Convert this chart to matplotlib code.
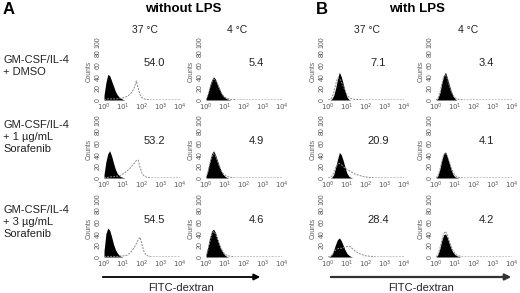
import numpy as np
import matplotlib
matplotlib.use("Agg")
import matplotlib.pyplot as plt

plt.rcParams['font.family'] = ['Liberation Sans', 'DejaVu Sans']

W, H = 520, 293

# log10 positions of the points
black_x = [0.0, 0.1, 0.2, 0.3, 0.4, 0.5, 0.6, 0.7, 0.8, 0.9, 1.0, 1.1, 1.2, 1.3, 1.4]
dash_x = [0.0, 0.1, 0.2, 0.3, 0.4, 0.5, 0.6, 0.7, 0.8, 0.9, 1.0, 1.1, 1.2,
          1.3, 1.4, 1.5, 1.6, 1.7, 1.8, 1.9, 2.0, 2.1, 2.2, 2.3, 2.4, 2.5,
          3.0, 3.5, 4.0]

row_labels = ["GM-CSF/IL-4\n+ DMSO",
              "GM-CSF/IL-4\n+ 1 \u00b5g/mL\nSorafenib",
              "GM-CSF/IL-4\n+ 3 \u00b5g/mL\nSorafenib"]
col_titles = ["37 \u00b0C", "4 \u00b0C", "37 \u00b0C", "4 \u00b0C"]

pct_a37 = ["54.0", "53.2", "54.5"]
pct_a4 = ["5.4", "4.9", "4.6"]
pct_b37 = ["7.1", "20.9", "28.4"]
pct_b4 = ["3.4", "4.1", "4.2"]

# black filled histograms (control), one list per row
black_a37 = [[8, 30, 44, 42, 33, 24, 15, 9, 5, 3, 1, 0, 0, 0, 0],
             [6, 28, 42, 47, 38, 26, 15, 8, 4, 2, 1, 0, 0, 0, 0],
             [10, 40, 50, 46, 35, 22, 13, 7, 3, 1, 0, 0, 0, 0, 0]]
black_a4 = [[2, 12, 25, 35, 40, 36, 28, 20, 12, 7, 4, 2, 1, 0, 0],
            [3, 15, 30, 42, 47, 40, 30, 20, 12, 6, 3, 1, 0, 0, 0],
            [4, 18, 34, 45, 48, 42, 32, 22, 13, 7, 3, 1, 0, 0, 0]]
black_b37 = [[0, 0, 2, 8, 20, 36, 48, 40, 28, 15, 5, 1, 0, 0, 0],
             [0, 0, 1, 6, 18, 32, 44, 40, 30, 18, 8, 3, 1, 0, 0],
             [0, 1, 4, 12, 22, 30, 33, 28, 20, 12, 6, 3, 1, 0, 0]]
black_b4 = [[0, 3, 12, 28, 42, 48, 38, 26, 15, 7, 2, 0, 0, 0, 0],
            [0, 4, 15, 30, 42, 45, 36, 25, 14, 6, 2, 1, 0, 0, 0],
            [0, 4, 14, 28, 38, 40, 33, 23, 14, 8, 4, 2, 1, 0, 0]]

# dashed histograms (FITC-dextran uptake)
dash_a37 = [[0, 1, 2, 2, 2, 2, 2, 2, 3, 3, 4, 5, 6, 8, 11, 15, 22, 33, 20, 9, 4, 2, 1, 1, 0, 0, 0, 0, 0],
            [0, 1, 1, 2, 2, 2, 3, 3, 4, 5, 7, 9, 12, 15, 18, 22, 26, 30, 31, 18, 8, 4, 2, 1, 1, 0, 0, 0, 0],
            [0, 1, 1, 1, 1, 1, 1, 1, 1, 2, 2, 2, 3, 5, 8, 12, 17, 23, 30, 34, 22, 10, 4, 2, 1, 0, 0, 0, 0]]
dash_a4 = [[0, 8, 20, 30, 36, 34, 28, 20, 13, 8, 5, 3, 2, 1, 1, 1, 0, 0, 0, 0, 0, 0, 0, 0, 0, 0, 0, 0, 0],
           [0, 10, 24, 36, 42, 38, 30, 21, 13, 8, 5, 3, 2, 1, 1, 0, 0, 0, 0, 0, 0, 0, 0, 0, 0, 0, 0, 0, 0],
           [0, 12, 26, 38, 44, 40, 31, 22, 14, 9, 5, 3, 2, 1, 1, 0, 0, 0, 0, 0, 0, 0, 0, 0, 0, 0, 0, 0, 0]]
dash_b37 = [[0, 1, 4, 12, 26, 38, 37, 32, 24, 16, 9, 5, 3, 2, 1, 1, 1, 1, 0, 0, 0, 0, 0, 0, 0, 0, 0, 0, 0],
            [0, 1, 3, 9, 18, 24, 25, 23, 20, 17, 15, 13, 11, 9, 7, 6, 5, 4, 3, 2, 2, 1, 1, 1, 0, 0, 0, 0, 0],
            [0, 1, 3, 8, 12, 14, 15, 15, 16, 17, 18, 19, 17, 14, 11, 9, 7, 5, 4, 3, 2, 2, 1, 1, 1, 0, 0, 0, 0]]
dash_b4 = [[0, 3, 12, 27, 40, 44, 36, 25, 15, 8, 4, 2, 1, 1, 0, 0, 0, 0, 0, 0, 0, 0, 0, 0, 0, 0, 0, 0, 0],
           [0, 4, 14, 28, 40, 44, 38, 28, 18, 10, 5, 2, 1, 1, 0, 0, 0, 0, 0, 0, 0, 0, 0, 0, 0, 0, 0, 0, 0],
           [0, 4, 14, 28, 40, 44, 38, 28, 18, 11, 6, 3, 2, 1, 0, 0, 0, 0, 0, 0, 0, 0, 0, 0, 0, 0, 0, 0, 0]]

blacks = [black_a37, black_a4, black_b37, black_b4]
dashes = [dash_a37, dash_a4, dash_b37, dash_b4]
pcts = [pct_a37, pct_a4, pct_b37, pct_b4]

# layout in pixels
col_left = [104, 206, 328, 436]
col_w = 76
row_top = [42, 120, 199]
row_h = 58


def fx(px):
    return px / W


def fy(py):
    return 1 - py / H


fig = plt.figure(figsize=(5.2, 2.93), dpi=100)

for c in range(4):
    for r in range(3):
        ax = fig.add_axes([fx(col_left[c]), fy(row_top[r] + row_h), col_w / W, row_h / H])
        bx = 10 ** np.array(black_x)
        dx = 10 ** np.array(dash_x)
        ax.fill_between(bx, 0, blacks[c][r], color='black', linewidth=0)
        ax.plot(dx, dashes[c][r], color='#8a8a8a', lw=0.7, ls=(0, (2, 1.2)))
        ax.set_xscale('log')
        ax.set_xlim(1, 1e4)
        ax.set_ylim(0, 100)
        for s in ax.spines.values():
            s.set_visible(False)
        ax.set_xticks([1, 10, 100, 1000, 10000])
        ax.set_xticklabels(['$10^{0}$', '$10^{1}$', '$10^{2}$', '$10^{3}$', '$10^{4}$'])
        ax.minorticks_off()
        ax.set_yticks([0, 20, 40, 60, 80, 100])
        ax.set_yticklabels(['0', '20', '40', '60', '80', '100'], rotation=90, va='center')
        ax.tick_params(length=0, pad=1.5, labelsize=5, colors='#5a5a5a')
        ax.set_ylabel('Counts', fontsize=4.8, color='#5a5a5a', labelpad=1.5)
        ax.patch.set_alpha(0)
        ax.text(0.66, 0.64, pcts[c][r], transform=ax.transAxes, ha='center', va='center',
                fontsize=8, color='#222222')

# headers
fig.text(fx(3), fy(9), 'A', fontsize=12, fontweight='bold', va='center', ha='left')
fig.text(fx(183), fy(9), 'without LPS', fontsize=9.5, fontweight='bold', va='center', ha='center')
fig.text(fx(316), fy(9), 'B', fontsize=12, fontweight='bold', va='center', ha='left')
fig.text(fx(417), fy(9), 'with LPS', fontsize=9.5, fontweight='bold', va='center', ha='center')

title_x = [145, 237, 367, 468]
for c in range(4):
    fig.text(fx(title_x[c]), fy(30), col_titles[c], fontsize=7.5, ha='center', va='center',
             color='#222222')

row_y = [66, 137, 222]
for r in range(3):
    fig.text(fx(3), fy(row_y[r]), row_labels[r], fontsize=8, ha='left', va='center',
             linespacing=1.25, color='#222222')

# arrows along the FITC-dextran axis
fig.add_artist(matplotlib.patches.FancyArrowPatch((fx(100), fy(277)), (fx(263), fy(277)),
                                                  transform=fig.transFigure, arrowstyle='-|>',
                                                  mutation_scale=9, lw=1.3, color='black'))
fig.add_artist(matplotlib.patches.FancyArrowPatch((fx(328), fy(277)), (fx(514), fy(277)),
                                                  transform=fig.transFigure, arrowstyle='-|>',
                                                  mutation_scale=9, lw=1.6, color='#333333'))
fig.text(fx(181), fy(288), 'FITC-dextran', fontsize=8, ha='center', va='center', color='#222222')
fig.text(fx(421), fy(288), 'FITC-dextran', fontsize=8, ha='center', va='center', color='#222222')

fig.savefig('out.png', dpi=100)
